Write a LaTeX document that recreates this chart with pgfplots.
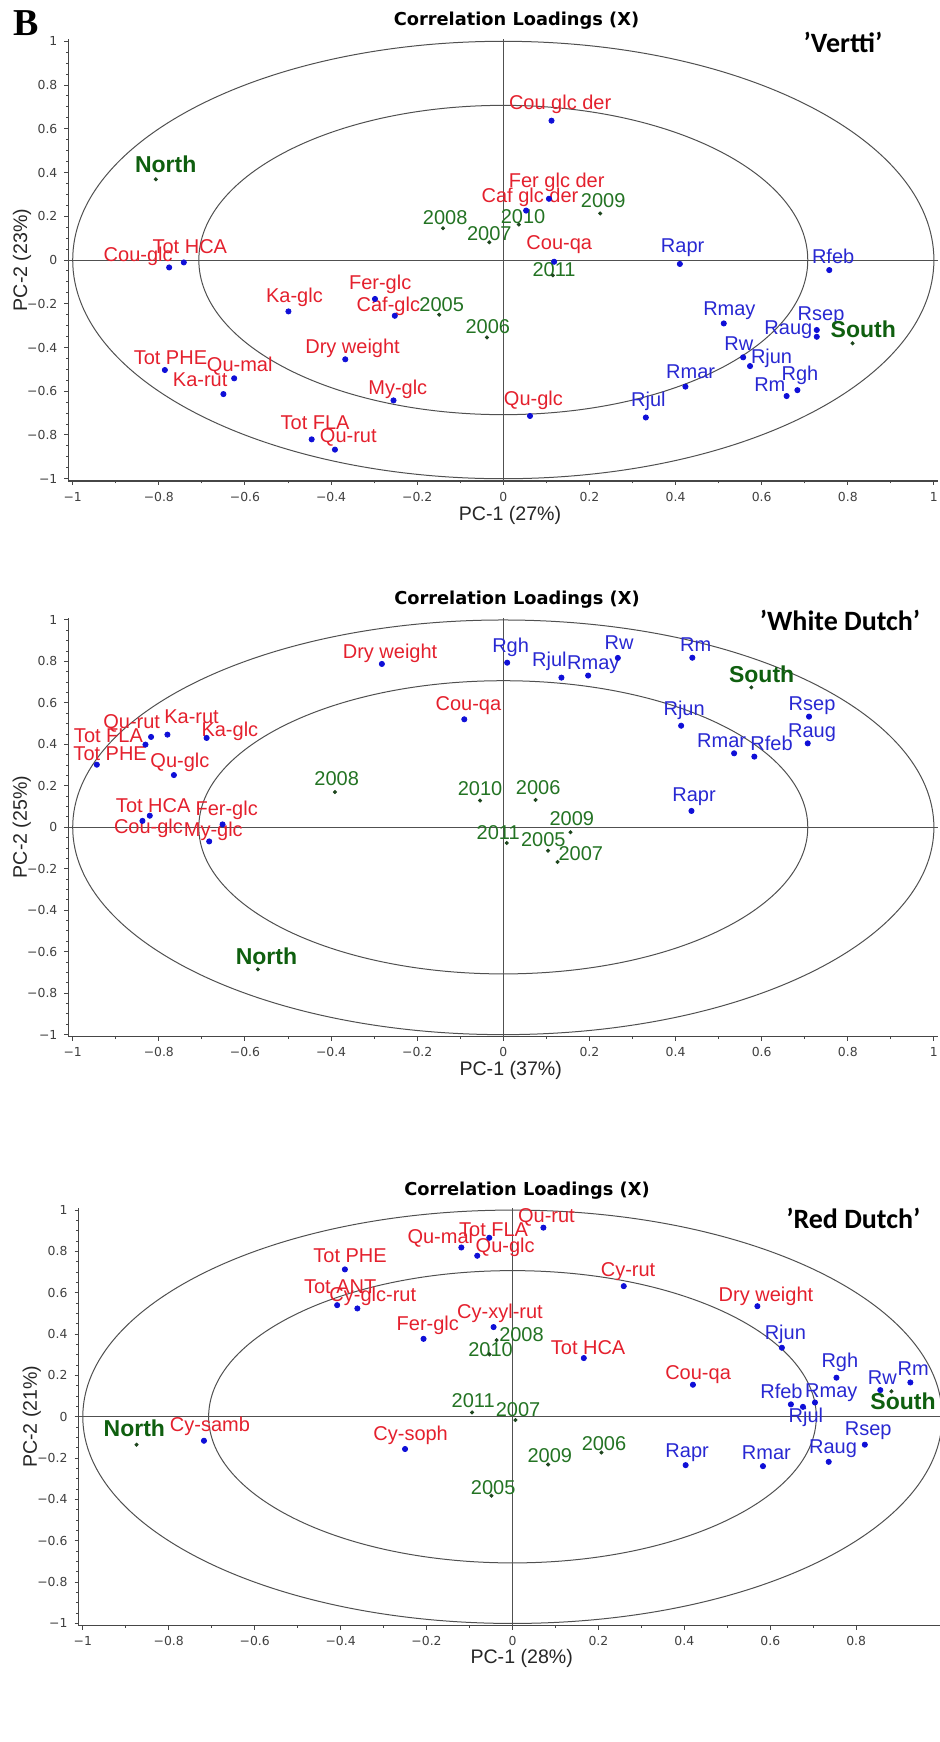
\documentclass[border=0pt]{standalone}
\usepackage{fontspec}
\setmainfont{Liberation Sans}
\newfontfamily\dejavu{DejaVu Sans}
\newfontfamily\carlito{Carlito}
\newfontfamily\tnr{Liberation Serif}
\usepackage{pgfplots}
\pgfplotsset{compat=1.18}
\definecolor{lred}{RGB}{228,32,45}
\definecolor{lblue}{RGB}{40,40,210}
\definecolor{lgreen}{RGB}{35,115,35}
\definecolor{dgreen}{RGB}{15,95,15}
\definecolor{dotgreen}{RGB}{30,70,30}
\definecolor{dotblue}{RGB}{15,15,215}
\definecolor{axgray}{RGB}{70,70,70}
\definecolor{ellgray}{RGB}{80,80,80}
\pgfplotsset{
 loadax/.style={
  scale only axis, anchor=south west, axis lines=left,
  axis line style={-, line width=0.6pt, draw=axgray},
  xmin=-1.01,xmax=1.01,ymin=-1.01,ymax=1.01,
  xtick={-1,-0.8,-0.6,-0.4,-0.2,0,0.2,0.4,0.6,0.8,1},
  xticklabels={−1,−0.8,−0.6,−0.4,−0.2,0,0.2,0.4,0.6,0.8,1},
  ytick={-1,-0.8,-0.6,-0.4,-0.2,0,0.2,0.4,0.6,0.8,1},
  yticklabels={−1,−0.8,−0.6,−0.4,−0.2,0,0.2,0.4,0.6,0.8,1},
  minor x tick num=1, minor y tick num=3,
  tick align=outside, major tick length=2pt, minor tick length=1.2pt,
  tick style={axgray, line width=0.5pt},
  tick label style={font=\dejavu\fontsize{6.2}{7}\selectfont, text=black!75},
  clip=false,
 },
 bdot/.style={only marks, color=dotblue, mark=*, mark size=1.3pt, mark options={draw=dotblue, fill=dotblue}},
 gdot/.style={only marks, color=dotgreen, mark=*, mark size=0.8pt, mark options={draw=dotgreen, fill=dotgreen}},
}
\tikzset{
 lab/.style={font=\fontsize{10}{11}\selectfont, inner sep=0pt, anchor=center},
 rl/.style={lab, text=lred},
 bl/.style={lab, text=lblue},
 gl/.style={lab, text=lgreen},
 nl/.style={font=\bfseries\fontsize{11.5}{12}\selectfont, inner sep=0pt, text=dgreen},
 ell/.style={draw=ellgray, line width=0.5pt},
 zl/.style={draw=ellgray, line width=0.5pt},
 ttl/.style={font=\dejavu\bfseries\fontsize{8.9}{10}\selectfont, inner sep=0pt},
 cult/.style={font=\carlito\bfseries\fontsize{14}{15}\selectfont, inner sep=0pt},
 axl/.style={font=\fontsize{9.8}{11}\selectfont, inner sep=0pt, text=black!85},
}
\begin{document}
\begin{tikzpicture}
\useasboundingbox (0pt,0pt) rectangle (470pt,-871pt);
% ---------------- Panel 1: Vertti ----------------
\begin{axis}[loadax, at={(34.2pt,-240.45pt)}, width=434.9pt, height=220.9pt]
\draw[ell] (axis cs:0,0) ellipse [x radius=1, y radius=1];
\draw[ell] (axis cs:0,0) ellipse [x radius=0.7071, y radius=0.7071];
\draw[zl] (axis cs:-1.01,0) -- (axis cs:1.01,0);
\draw[zl] (axis cs:0,-1.01) -- (axis cs:0,1.01);
\addplot[bdot] table {
x y
-0.776 -0.034
-0.742 -0.011
-0.499 -0.235
-0.298 -0.178
-0.252 -0.255
-0.367 -0.454
-0.786 -0.503
-0.625 -0.541
-0.650 -0.613
-0.255 -0.642
-0.445 -0.820
-0.391 -0.867
0.112 0.637
0.106 0.280
0.053 0.226
0.118 -0.008
0.410 -0.018
0.757 -0.046
0.512 -0.290
0.728 -0.320
0.728 -0.351
0.557 -0.445
0.573 -0.485
0.423 -0.579
0.683 -0.595
0.658 -0.622
0.062 -0.713
0.331 -0.720
};
\addplot[gdot] table {
x y
-0.807 0.369
-0.149 -0.250
-0.038 -0.354
-0.140 0.145
-0.0325 0.081
0.225 0.213
0.036 0.162
0.115 -0.070
0.811 -0.381
};
\node[nl] at (axis cs:-0.784,0.4375) {North};
\node[rl] at (axis cs:-0.848,0.018) {Cou-glc};
\node[rl] at (axis cs:-0.728,0.061) {Tot HCA};
\node[rl] at (axis cs:-0.485,-0.172) {Ka-glc};
\node[rl] at (axis cs:-0.286,-0.110) {Fer-glc};
\node[rl] at (axis cs:-0.267,-0.210) {Caf-glc};
\node[gl] at (axis cs:-0.143,-0.203) {2005};
\node[gl] at (axis cs:-0.036,-0.305) {2006};
\node[rl] at (axis cs:-0.350,-0.404) {Dry weight};
\node[rl] at (axis cs:-0.773,-0.447) {Tot PHE};
\node[rl] at (axis cs:-0.612,-0.485) {Qu-mal};
\node[rl] at (axis cs:-0.704,-0.549) {Ka-rut};
\node[rl] at (axis cs:-0.245,-0.591) {My-glc};
\node[rl] at (axis cs:-0.437,-0.744) {Tot FLA};
\node[rl] at (axis cs:-0.360,-0.8125) {Qu-rut};
\node[gl] at (axis cs:-0.135,0.192) {2008};
\node[gl] at (axis cs:-0.0325,0.122) {2007};
\node[rl] at (axis cs:0.132,0.712) {Cou glc der};
\node[rl] at (axis cs:0.124,0.354) {Fer glc der};
\node[rl] at (axis cs:0.062,0.287) {Caf glc der};
\node[gl] at (axis cs:0.232,0.270) {2009};
\node[gl] at (axis cs:0.046,0.198) {2010};
\node[rl] at (axis cs:0.130,0.069) {Cou-qa};
\node[gl] at (axis cs:0.118,-0.046) {2011};
\node[bl] at (axis cs:0.4165,0.056) {Rapr};
\node[bl] at (axis cs:0.766,0.018) {Rfeb};
\node[bl] at (axis cs:0.525,-0.232) {Rmay};
\node[bl] at (axis cs:0.738,-0.256) {Rsep};
\node[bl] at (axis cs:0.662,-0.317) {Raug};
\node[nl] at (axis cs:0.836,-0.317) {South};
\node[bl] at (axis cs:0.547,-0.381) {Rw};
\node[bl] at (axis cs:0.623,-0.450) {Rjun};
\node[bl] at (axis cs:0.435,-0.511) {Rmar};
\node[bl] at (axis cs:0.689,-0.526) {Rgh};
\node[bl] at (axis cs:0.619,-0.572) {Rm};
\node[rl] at (axis cs:0.070,-0.640) {Qu-glc};
\node[bl] at (axis cs:0.337,-0.648) {Rjul};
\end{axis}
% ---------------- Panel 2: White Dutch ----------------
\begin{axis}[loadax, at={(34.2pt,-518.35pt)}, width=434.9pt, height=209.4pt]
\draw[ell] (axis cs:0,0) ellipse [x radius=1, y radius=1];
\draw[ell] (axis cs:0,0) ellipse [x radius=0.7071, y radius=0.7071];
\draw[zl] (axis cs:-1.01,0) -- (axis cs:1.01,0);
\draw[zl] (axis cs:0,-1.01) -- (axis cs:0,1.01);
\addplot[bdot] table {
x y
-0.282 0.788
0.009 0.794
-0.0906 0.521
-0.818 0.436
-0.780 0.447
-0.689 0.431
-0.831 0.399
-0.944 0.302
-0.765 0.252
-0.821 0.056
-0.838 0.031
-0.652 0.014
-0.683 -0.068
0.135 0.722
0.197 0.732
0.266 0.817
0.439 0.818
0.710 0.534
0.413 0.490
0.707 0.405
0.536 0.357
0.583 0.341
0.437 0.079
};
\addplot[gdot] table {
x y
-0.570 -0.685
-0.391 0.170
-0.054 0.129
0.008 -0.076
0.576 0.675
0.075 0.132
0.156 -0.024
0.104 -0.113
0.126 -0.167
};
\node[rl] at (axis cs:-0.263,0.839) {Dry weight};
\node[bl] at (axis cs:0.017,0.868) {Rgh};
\node[rl] at (axis cs:-0.081,0.587) {Cou-qa};
\node[rl] at (axis cs:-0.863,0.502) {Qu-rut};
\node[rl] at (axis cs:-0.724,0.534) {Ka-rut};
\node[rl] at (axis cs:-0.635,0.461) {Ka-glc};
\node[rl] at (axis cs:-0.917,0.442) {Tot FLA};
\node[rl] at (axis cs:-0.913,0.357) {Tot PHE};
\node[rl] at (axis cs:-0.751,0.3135) {Qu-glc};
\node[gl] at (axis cs:-0.387,0.233) {2008};
\node[gl] at (axis cs:-0.054,0.188) {2010};
\node[rl] at (axis cs:-0.813,0.103) {Tot HCA};
\node[rl] at (axis cs:-0.824,-0.005) {Cou-glc};
\node[rl] at (axis cs:-0.6425,0.084) {Fer-glc};
\node[rl] at (axis cs:-0.6735,-0.021) {My-glc};
\node[nl] at (axis cs:-0.550,-0.621) {North};
\node[gl] at (axis cs:-0.012,-0.026) {2011};
\node[bl] at (axis cs:0.107,0.799) {Rjul};
\node[bl] at (axis cs:0.209,0.786) {Rmay};
\node[bl] at (axis cs:0.269,0.891) {Rw};
\node[bl] at (axis cs:0.447,0.879) {Rm};
\node[nl] at (axis cs:0.600,0.738) {South};
\node[bl] at (axis cs:0.717,0.587) {Rsep};
\node[bl] at (axis cs:0.420,0.566) {Rjun};
\node[bl] at (axis cs:0.717,0.458) {Raug};
\node[bl] at (axis cs:0.507,0.416) {Rmar};
\node[bl] at (axis cs:0.623,0.405) {Rfeb};
\node[gl] at (axis cs:0.081,0.191) {2006};
\node[bl] at (axis cs:0.443,0.148) {Rapr};
\node[gl] at (axis cs:0.159,0.043) {2009};
\node[gl] at (axis cs:0.093,-0.058) {2005};
\node[gl] at (axis cs:0.180,-0.129) {2007};
\end{axis}
% ---------------- Panel 3: Red Dutch ----------------
\begin{axis}[loadax, at={(39.25pt,-812.75pt)}, width=430.75pt, height=208.75pt,
  xmax=0.995,
  xtick={-1,-0.8,-0.6,-0.4,-0.2,0,0.2,0.4,0.6,0.8},
  xticklabels={−1,−0.8,−0.6,−0.4,−0.2,0,0.2,0.4,0.6,0.8}]
\draw[ell] (axis cs:0,0) ellipse [x radius=1, y radius=1];
\draw[ell] (axis cs:0,0) ellipse [x radius=0.7071, y radius=0.7071];
\draw[zl] (axis cs:-1.01,0) -- (axis cs:0.995,0);
\draw[zl] (axis cs:0,-1.01) -- (axis cs:0,1.01);
\addplot[bdot] table {
x y
-0.390 0.713
-0.119 0.819
-0.054 0.866
-0.082 0.779
-0.408 0.540
-0.361 0.524
-0.207 0.377
-0.044 0.434
-0.718 -0.116
-0.250 -0.156
0.072 0.915
0.259 0.632
0.570 0.535
0.627 0.334
0.166 0.284
0.754 0.189
0.420 0.155
0.926 0.166
0.856 0.129
0.648 0.060
0.676 0.048
0.704 0.069
0.820 -0.135
0.403 -0.234
0.583 -0.239
0.736 -0.218
};
\addplot[gdot] table {
x y
-0.037 0.371
-0.0535 0.302
-0.094 0.021
0.007 -0.016
-0.875 -0.135
-0.049 -0.382
0.882 0.123
0.207 -0.173
0.083 -0.231
};
\node[rl] at (axis cs:-0.378,0.777) {Tot PHE};
\node[rl] at (axis cs:-0.168,0.863) {Qu-mal};
\node[rl] at (axis cs:-0.044,0.906) {Tot FLA};
\node[rl] at (axis cs:-0.017,0.819) {Qu-glc};
\node[rl] at (axis cs:-0.401,0.629) {Tot ANT};
\node[rl] at (axis cs:-0.325,0.581) {Cy-glc-rut};
\node[rl] at (axis cs:-0.197,0.444) {Fer-glc};
\node[nl] at (axis cs:-0.880,-0.056) {North};
\node[rl] at (axis cs:-0.704,-0.048) {Cy-samb};
\node[rl] at (axis cs:-0.237,-0.092) {Cy-soph};
\node[rl] at (axis cs:-0.029,0.500) {Cy-xyl-rut};
\node[gl] at (axis cs:0.021,0.398) {2008};
\node[gl] at (axis cs:-0.051,0.327) {2010};
\node[gl] at (axis cs:-0.0915,0.077) {2011};
\node[gl] at (axis cs:0.013,0.035) {2007};
\node[gl] at (axis cs:-0.045,-0.344) {2005};
\node[rl] at (axis cs:0.079,0.963) {Qu-rut};
\node[rl] at (axis cs:0.269,0.702) {Cy-rut};
\node[rl] at (axis cs:0.590,0.585) {Dry weight};
\node[bl] at (axis cs:0.635,0.400) {Rjun};
\node[rl] at (axis cs:0.176,0.335) {Tot HCA};
\node[bl] at (axis cs:0.762,0.263) {Rgh};
\node[rl] at (axis cs:0.432,0.206) {Cou-qa};
\node[bl] at (axis cs:0.9325,0.231) {Rm};
\node[bl] at (axis cs:0.861,0.189) {Rw};
\node[nl] at (axis cs:0.909,0.073) {South};
\node[bl] at (axis cs:0.626,0.121) {Rfeb};
\node[bl] at (axis cs:0.742,0.118) {Rmay};
\node[bl] at (axis cs:0.683,-0.005) {Rjul};
\node[bl] at (axis cs:0.828,-0.069) {Rsep};
\node[gl] at (axis cs:0.213,-0.129) {2006};
\node[gl] at (axis cs:0.087,-0.189) {2009};
\node[bl] at (axis cs:0.4065,-0.173) {Rapr};
\node[bl] at (axis cs:0.591,-0.173) {Rmar};
\node[bl] at (axis cs:0.746,-0.153) {Raug};
\end{axis}
% ---------------- free text ----------------
\node[font=\tnr\bfseries\fontsize{19}{20}\selectfont, inner sep=0pt, anchor=base west] at (6.3pt,-17.5pt) {B};
\node[ttl] at (258.25pt,-10.35pt) {Correlation Loadings (X)};
\node[ttl] at (258.5pt,-300pt) {Correlation Loadings (X)};
\node[ttl] at (263.5pt,-595.5pt) {Correlation Loadings (X)};
\node[cult] at (421.5pt,-21pt) {’Vertti’};
\node[cult] at (420pt,-310pt) {’White Dutch’};
\node[cult] at (426.65pt,-609.15pt) {’Red Dutch’};
\node[axl] at (255pt,-257.5pt) {PC-1 (27\%)};
\node[axl] at (255.35pt,-535pt) {PC-1 (37\%)};
\node[axl] at (260.85pt,-829.15pt) {PC-1 (28\%)};
\node[axl, rotate=90] at (11pt,-130pt) {PC-2 (23\%)};
\node[axl, rotate=90] at (10.85pt,-413.5pt) {PC-2 (25\%)};
\node[axl, rotate=90] at (15.85pt,-708.35pt) {PC-2 (21\%)};
\end{tikzpicture}
\end{document}
